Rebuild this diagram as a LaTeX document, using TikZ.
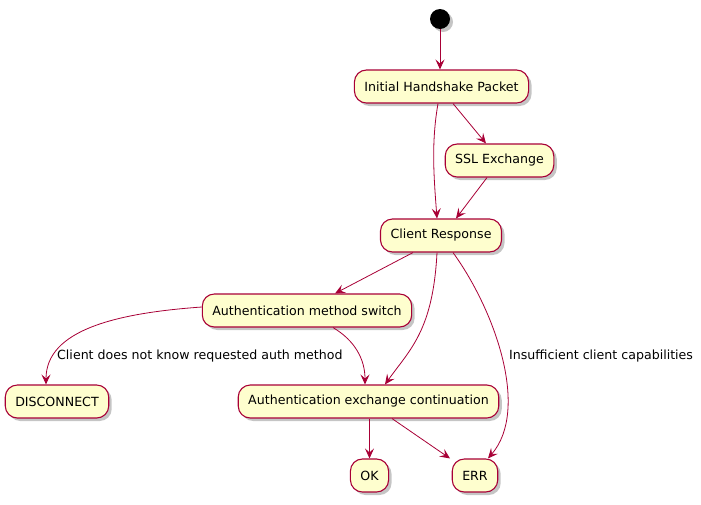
\documentclass[tikz,border=0pt]{standalone}
\usepackage{fontspec}
\setmainfont{DejaVu Sans}
\definecolor{uml_red}{RGB}{168, 0, 54}
\definecolor{uml_fill}{RGB}{254, 254, 206}
\usetikzlibrary{arrows.meta, shadows}

\begin{document}
\begin{tikzpicture}[x=1pt, y=-1pt,
      act/.style={rectangle, rounded corners=12pt, draw=uml_red, fill=uml_fill,
                  line width=1.1pt, minimum height=33pt, inner xsep=10pt,
                  font=\fontsize{12.6}{14}\selectfont,
                  drop shadow={shadow xshift=3pt, shadow yshift=-3pt,
                               fill=black!45, opacity=0.5}},
      init/.style={circle, fill=black, minimum size=20pt, inner sep=0pt,
                   drop shadow={shadow xshift=3pt, shadow yshift=-3pt,
                                fill=black!45, opacity=0.5}},
      arr/.style={-{Stealth[length=10pt, width=9pt, inset=4pt]}, uml_red, line width=0.8pt},
      lbl/.style={font=\fontsize{12.6}{15}\selectfont, anchor=west, inner sep=0pt},
    ]
      \useasboundingbox (0,0) rectangle (701,504);

      \node[init] (start) at (440, 19) {};
      \node[act]  (ihp)  at (441.5, 86.5)  {Initial Handshake Packet};
      \node[act]  (ssl)  at (499.5, 160.5) {SSL Exchange};
      \node[act]  (cr)   at (441, 235.5)   {Client Response};
      \node[act]  (ams)  at (307, 310.5)   {Authentication method switch};
      \node[act]  (disc) at (57, 401.5)    {DISCONNECT};
      \node[act]  (aec)  at (368.5, 401.5) {Authentication exchange continuation};
      \node[act]  (ok)   at (369.5, 475.5) {OK};
      \node[act]  (err)  at (475, 475.5)   {ERR};

      \draw[arr] (start) -- (start |- ihp.north);
      \draw[arr] ([xshift=11.5pt]ihp.south) -- ([xshift=-13.5pt]ssl.north);
      \draw[arr] ([xshift=-3.5pt]ihp.south) .. controls +(-7,40) and +(-3,-40) .. ([xshift=-4pt]cr.north);
      \draw[arr] ([xshift=-12.5pt]ssl.south) -- ([xshift=15pt]cr.north);
      \draw[arr] ([xshift=-28pt]cr.south) -- ([xshift=28pt]ams.north);
      \draw[arr] ([xshift=-4pt]cr.south) .. controls +(-4,78) and +(25,-35) .. ([xshift=16.5pt]aec.north);
      \draw[arr] ([xshift=12pt]cr.south) .. controls +(42,58) and +(42,-49) .. ([xshift=13pt]err.north);
      \draw[arr] ([yshift=3.5pt]ams.west) .. controls +(-84,6) and +(0,-55) .. ([xshift=-11pt]disc.north);
      \draw[arr] ([xshift=26pt]ams.south) .. controls +(22,13) and +(0,-25) .. ([xshift=-3.5pt]aec.north);
      \draw[arr] (ok |- aec.south) -- (ok);
      \draw[arr] ([xshift=23.5pt]aec.south) -- ([xshift=-25pt]err.north);

      \node[lbl] (l_disc) at (57, 356)  {Client does not know requested auth method};
      \node[lbl] (l_err)  at (509, 356) {Insufficient client capabilities};
    \end{tikzpicture}
\end{document}
